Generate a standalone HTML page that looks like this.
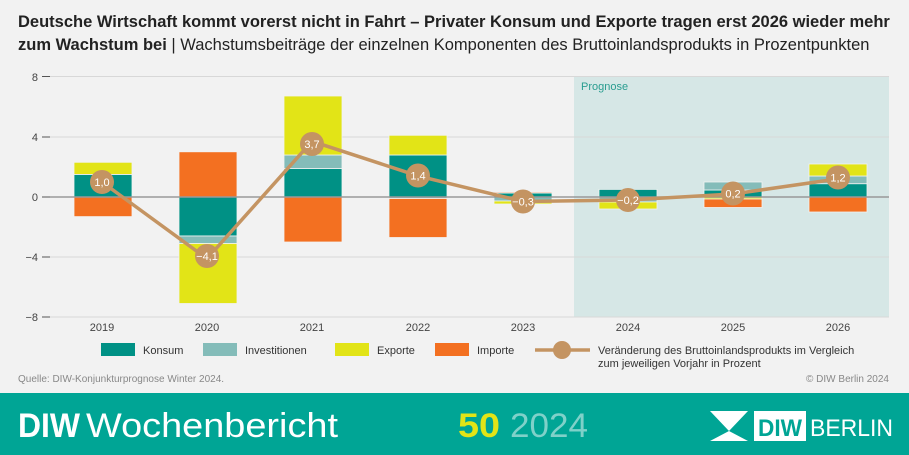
<!DOCTYPE html>
<html><head><meta charset="utf-8"><style>
body{margin:0;width:909px;height:455px;background:#f2f2f2;font-family:"Liberation Sans",sans-serif;overflow:hidden;position:relative}
.t{position:absolute;left:18px;top:11px;font-size:16.5px;line-height:23px;color:#222;width:880px}
svg{position:absolute;left:0;top:0}
.f{position:absolute;left:0;top:393px;width:909px;height:62px;background:#00a595}
</style></head><body>
<div class="t"><b>Deutsche Wirtschaft kommt vorerst nicht in Fahrt – Privater Konsum und Exporte tragen erst 2026 wieder mehr zum Wachstum bei</b> | Wachstumsbeiträge der einzelnen Komponenten des Bruttoinlandsprodukts in Prozentpunkten</div>
<svg width="909" height="455" font-family="Liberation Sans, sans-serif">
<rect x="574" y="76" width="315" height="241" fill="#d6e7e6"/>
<text x="581" y="90" font-size="11" fill="#2a9d90">Prognose</text>
<g stroke="#d8d8d8" stroke-width="1">
<line x1="50" y1="76.5" x2="889" y2="76.5"/><line x1="50" y1="137" x2="889" y2="137"/><line x1="50" y1="257" x2="889" y2="257"/><line x1="50" y1="317" x2="889" y2="317"/>
</g>
<g stroke="#555" stroke-width="1"><line x1="42" y1="76.5" x2="50" y2="76.5"/><line x1="42" y1="137" x2="50" y2="137"/><line x1="42" y1="197" x2="50" y2="197"/><line x1="42" y1="257" x2="50" y2="257"/><line x1="42" y1="317" x2="50" y2="317"/></g>
<g font-size="11" fill="#444" text-anchor="end"><text x="38" y="81">8</text><text x="38" y="141">4</text><text x="38" y="201">0</text><text x="38" y="261">−4</text><text x="38" y="321">−8</text></g>
<g stroke="#f2f2f2" stroke-width="0.8">
<rect x="74" y="174.4" width="58" height="22.6" fill="#009185"/><rect x="74" y="162.3" width="58" height="12.1" fill="#e2e417"/><rect x="74" y="197" width="58" height="19.6" fill="#f37021"/>
<rect x="179" y="151.8" width="58" height="45.2" fill="#f37021"/><rect x="179" y="197" width="58" height="39" fill="#009185"/><rect x="179" y="236" width="58" height="7.5" fill="#84bcb9"/><rect x="179" y="243.5" width="58" height="60" fill="#e2e417"/>
<rect x="284" y="168.4" width="58" height="28.6" fill="#009185"/><rect x="284" y="155" width="58" height="13.4" fill="#84bcb9"/><rect x="284" y="96" width="58" height="59" fill="#e2e417"/><rect x="284" y="197" width="58" height="45" fill="#f37021"/>
<rect x="389" y="155" width="58" height="42" fill="#009185"/><rect x="389" y="135.3" width="58" height="19.7" fill="#e2e417"/><rect x="389" y="197" width="58" height="1.5" fill="#84bcb9"/><rect x="389" y="198.5" width="58" height="39" fill="#f37021"/>
<rect x="494" y="193" width="58" height="4" fill="#009185"/><rect x="494" y="192" width="58" height="1" fill="#f37021"/><rect x="494" y="197" width="58" height="4" fill="#84bcb9"/><rect x="494" y="201" width="58" height="3" fill="#e2e417"/>
<rect x="599" y="189.4" width="58" height="7.6" fill="#009185"/><rect x="599" y="197" width="58" height="5" fill="#84bcb9"/><rect x="599" y="202" width="58" height="7" fill="#e2e417"/>
<rect x="704" y="190" width="58" height="7" fill="#009185"/><rect x="704" y="182" width="58" height="8" fill="#84bcb9"/><rect x="704" y="197" width="58" height="2" fill="#e2e417"/><rect x="704" y="199" width="58" height="8.5" fill="#f37021"/>
<rect x="809" y="183.7" width="58" height="13.3" fill="#009185"/><rect x="809" y="176" width="58" height="7.7" fill="#84bcb9"/><rect x="809" y="164" width="58" height="12" fill="#e2e417"/><rect x="809" y="197" width="58" height="15" fill="#f37021"/>
</g>
<line x1="50" y1="197" x2="889" y2="197" stroke="#999" stroke-width="1.5"/>
<polyline points="102,182 207,258.7 312,141.3 418,175.9 523,201.5 628,200 733,194 838,178.9" fill="none" stroke="#c49462" stroke-width="3.5"/>
<g fill="#c49462"><circle cx="102" cy="182" r="12"/><circle cx="207" cy="256" r="12"/><circle cx="312" cy="144" r="12"/><circle cx="418" cy="175.5" r="12"/><circle cx="523" cy="201.5" r="12"/><circle cx="628" cy="200" r="12"/><circle cx="733" cy="193.5" r="12"/><circle cx="838" cy="177.5" r="12"/></g>
<g font-size="11" fill="#fff" text-anchor="middle"><text x="102" y="186">1,0</text><text x="207" y="260">−4,1</text><text x="312" y="148">3,7</text><text x="418" y="179.5">1,4</text><text x="523" y="205.5">−0,3</text><text x="628" y="204">−0,2</text><text x="733" y="197.5">0,2</text><text x="838" y="181.5">1,2</text></g>
<g font-size="11" fill="#444" text-anchor="middle"><text x="102" y="331">2019</text><text x="207" y="331">2020</text><text x="312" y="331">2021</text><text x="418" y="331">2022</text><text x="523" y="331">2023</text><text x="628" y="331">2024</text><text x="733" y="331">2025</text><text x="838" y="331">2026</text></g>
<g font-size="11" fill="#333">
<rect x="101" y="343" width="34" height="13" fill="#009185"/><text x="143" y="354">Konsum</text>
<rect x="203" y="343" width="34" height="13" fill="#84bcb9"/><text x="245" y="354">Investitionen</text>
<rect x="335" y="343" width="34" height="13" fill="#e2e417"/><text x="377" y="354">Exporte</text>
<rect x="435" y="343" width="34" height="13" fill="#f37021"/><text x="477" y="354">Importe</text>
<line x1="535" y1="350" x2="590" y2="350" stroke="#c49462" stroke-width="3.5"/><circle cx="562" cy="350" r="9" fill="#c49462"/>
<text x="598" y="354">Veränderung des Bruttoinlandsprodukts im Vergleich</text><text x="598" y="367">zum jeweiligen Vorjahr in Prozent</text>
</g>
<text x="18" y="382" font-size="10" fill="#888">Quelle: DIW-Konjunkturprognose Winter 2024.</text>
<text x="889" y="382" font-size="10" fill="#888" text-anchor="end">© DIW Berlin 2024</text>
</svg>
<div class="f">
<svg width="909" height="62">
<text x="18" y="44" font-size="34" fill="#fff" font-weight="bold" textLength="62" lengthAdjust="spacingAndGlyphs">DIW</text>
<text x="86" y="44" font-size="34" fill="#fff" textLength="252" lengthAdjust="spacingAndGlyphs">Wochenbericht</text>
<text x="458" y="44" font-size="34" fill="#e2e417" font-weight="bold" textLength="42" lengthAdjust="spacingAndGlyphs">50</text>
<text x="510" y="44" font-size="34" fill="#7fd1c9" textLength="78" lengthAdjust="spacingAndGlyphs">2024</text>
<polygon points="710,18 748,18 729,38" fill="#fff"/><polygon points="710,48 748,48 729,38" fill="#fff"/>
<rect x="754" y="18" width="52" height="30" fill="#fff"/>
<text x="780" y="43" font-size="24" font-weight="bold" fill="#00a595" text-anchor="middle" textLength="44" lengthAdjust="spacingAndGlyphs">DIW</text>
<text x="810" y="43" font-size="24" fill="#fff" textLength="83" lengthAdjust="spacingAndGlyphs">BERLIN</text>
</svg>
</div>
</body></html>
